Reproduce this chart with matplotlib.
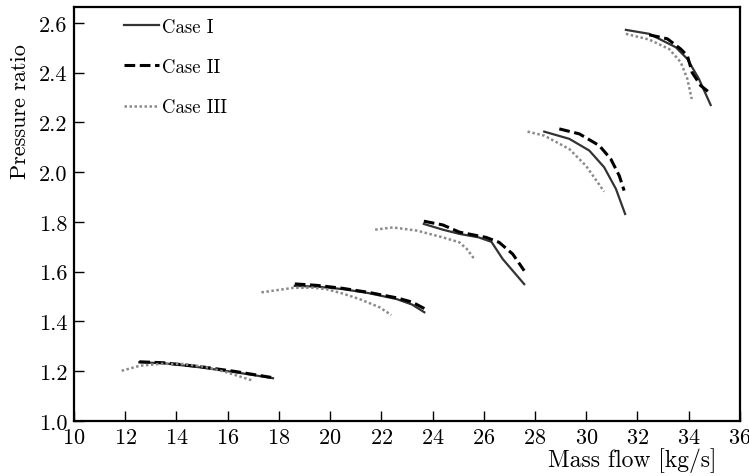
"""
Compressor map: pressure ratio vs mass flow for three cases, five speed lines each.
"""
import matplotlib
matplotlib.use('Agg')
import matplotlib.pyplot as plt

plt.rcParams['font.family'] = 'serif'
plt.rcParams['font.serif'] = ['cmr10']
plt.rcParams['mathtext.fontset'] = 'cm'
plt.rcParams['axes.formatter.use_mathtext'] = True

# speed lines, low -> high
case1_x = [
    [12.55, 13.5, 14.9, 16.3, 17.77],
    [18.62, 19.5, 20.5, 21.5, 22.6, 23.2, 23.68],
    [23.66, 24.40, 25.05, 25.8, 26.3, 26.74, 27.58],
    [28.36, 29.34, 30.12, 30.70, 31.16, 31.52],
    [31.55, 32.46, 33.50, 33.95, 34.40, 34.86],
]
case1_y = [
    [1.236, 1.232, 1.216, 1.196, 1.172],
    [1.543, 1.540, 1.530, 1.514, 1.490, 1.468, 1.437],
    [1.792, 1.769, 1.752, 1.738, 1.720, 1.651, 1.550],
    [2.163, 2.134, 2.087, 2.020, 1.933, 1.832],
    [2.572, 2.556, 2.502, 2.455, 2.375, 2.270],
]
case2_x = [
    [12.55, 13.5, 14.9, 16.3, 17.77],
    [18.62, 19.5, 20.5, 21.5, 22.6, 23.2, 23.68],
    [23.66, 24.40, 25.05, 26.09, 26.60, 27.13, 27.58],
    [28.95, 29.73, 30.51, 30.96, 31.29, 31.48],
    [32.46, 33.17, 33.69, 33.95, 34.14, 34.47, 34.80],
]
case2_y = [
    [1.238, 1.234, 1.219, 1.199, 1.174],
    [1.551, 1.545, 1.533, 1.517, 1.495, 1.478, 1.452],
    [1.803, 1.788, 1.759, 1.738, 1.718, 1.671, 1.604],
    [2.174, 2.154, 2.107, 2.053, 1.986, 1.926],
    [2.552, 2.536, 2.495, 2.468, 2.400, 2.348, 2.321],
]
case3_x = [
    [11.86, 12.57, 13.4, 14.26, 15.1, 15.95, 16.99],
    [17.32, 18.55, 19.3, 19.85, 20.5, 21.15, 21.93, 22.39],
    [21.76, 22.45, 23.4, 24.4, 25.05, 25.35, 25.63],
    [27.71, 28.36, 29.34, 29.99, 30.70],
    [31.55, 32.46, 33.24, 33.69, 33.95, 34.12],
]
case3_y = [
    [1.202, 1.222, 1.230, 1.229, 1.218, 1.196, 1.162],
    [1.517, 1.535, 1.536, 1.530, 1.512, 1.490, 1.457, 1.426],
    [1.769, 1.778, 1.765, 1.738, 1.718, 1.690, 1.651],
    [2.163, 2.147, 2.093, 2.026, 1.922],
    [2.556, 2.533, 2.495, 2.442, 2.375, 2.294],
]

fig = plt.figure(figsize=(7.49, 4.77), dpi=100)
ax = fig.add_axes([0.0988, 0.1153, 0.889, 0.868])

styles = [
    ('Case I', case1_x, case1_y, dict(color='#333333', ls='-', lw=1.6)),
    ('Case II', case2_x, case2_y, dict(color='black', ls=(0, (3.5, 1.5)), lw=2.2)),
    ('Case III', case3_x, case3_y, dict(color='#8a8a8a', ls=(0, (1, 1)), lw=1.8)),
]
for name, xs, ys, kw in styles:
    for i, (x, y) in enumerate(zip(xs, ys)):
        ax.plot(x, y, label=name if i == 0 else None, **kw)

ax.set_xlim(10, 36)
ax.set_ylim(1.0, 2.664)
ax.set_xticks(range(10, 37, 2))
ax.set_yticks([1.0, 1.2, 1.4, 1.6, 1.8, 2.0, 2.2, 2.4, 2.6])
ax.yaxis.set_major_formatter(matplotlib.ticker.FormatStrFormatter('%.1f'))
ax.tick_params(direction='in', length=7, width=1, labelsize=16, pad=5,
               top=False, right=False)
for sp in ax.spines.values():
    sp.set_linewidth(1.6)

ax.set_xlabel('Mass flow [kg/s]', fontsize=17, ha='right')
ax.xaxis.set_label_coords(0.9655, -0.062)
ax.set_ylabel('Pressure ratio', fontsize=16)
ax.yaxis.set_label_coords(-0.066, 0.749)

ax.legend(loc='upper left', bbox_to_anchor=(0.049, 1.015), frameon=False,
          fontsize=13.5, handlelength=1.9, handletextpad=0.15, labelspacing=1.2)

plt.savefig('out.png', dpi=100)
